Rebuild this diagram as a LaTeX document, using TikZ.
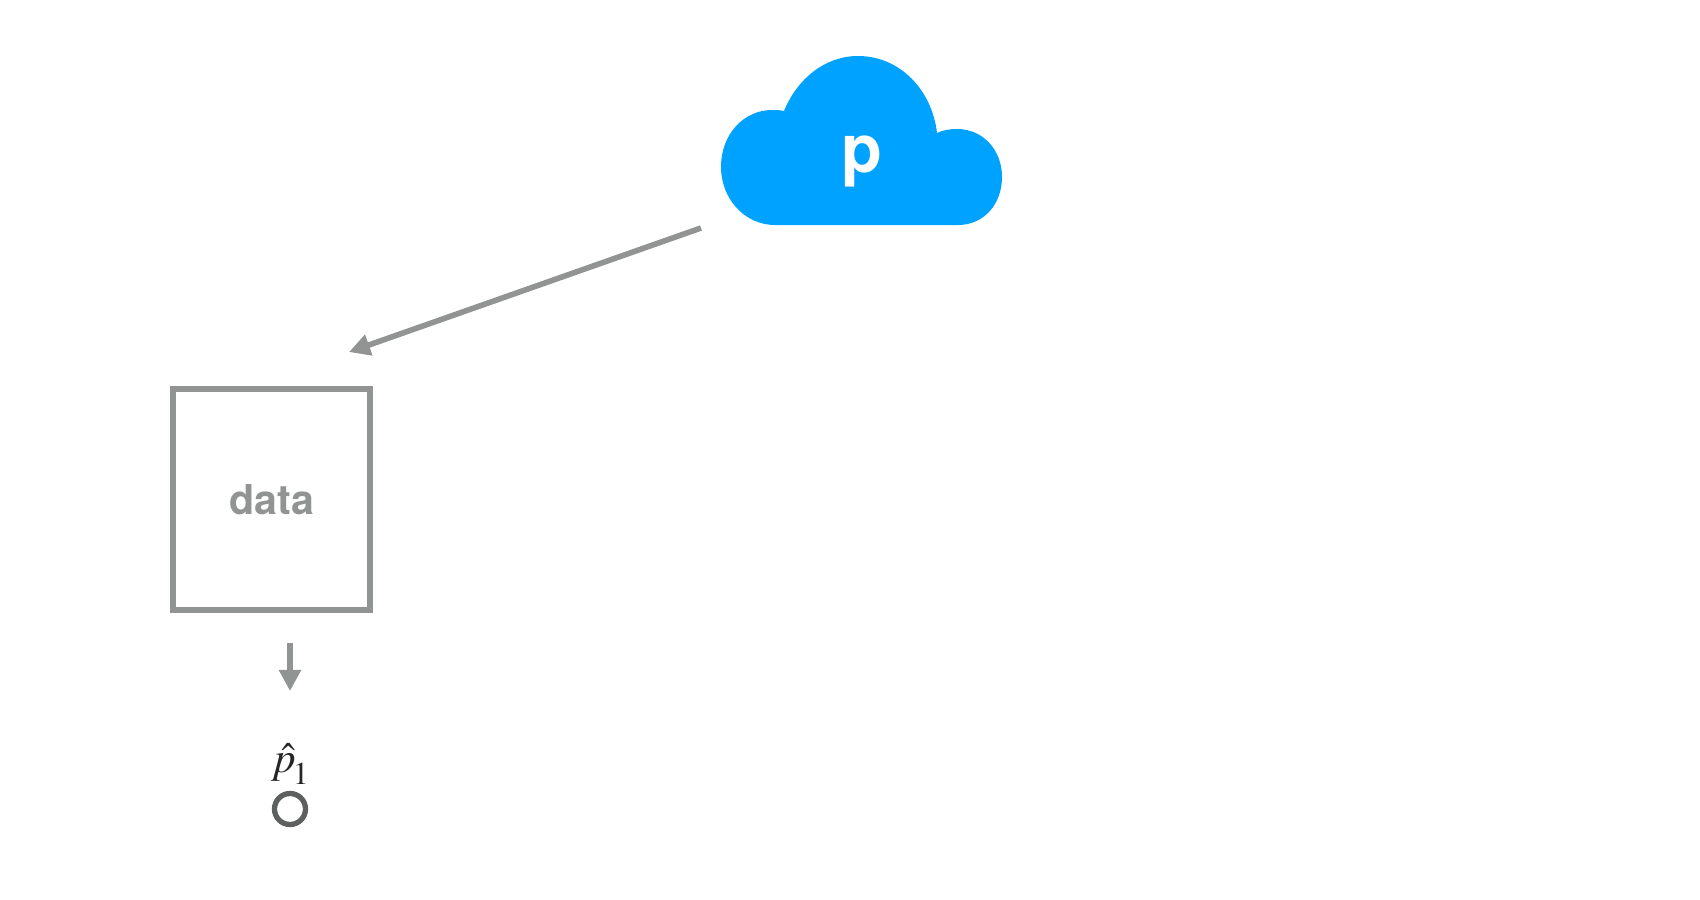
\documentclass[tikz,border=0pt]{standalone}
\usepackage{mathptmx}
\usepackage{fontspec}
\setsansfont{TeX Gyre Heros}
\usepackage{tikz}
\usetikzlibrary{arrows.meta, positioning}
\definecolor{cloudblue}{HTML}{00A2FF}
\definecolor{linegray}{HTML}{929494}
\definecolor{ringgray}{HTML}{5E5F5F}

\begin{document}
\begin{tikzpicture}[x=0.01cm,y=-0.01cm,>={Triangle[length=0.21cm,width=0.21cm]}]
	\tikzset{flow/.style={->,draw=linegray,line width=1.6pt},
		databox/.style={draw=linegray,line width=1.6pt,minimum width=1.97cm,minimum height=2.21cm,inner sep=0pt,text=linegray,font=\sffamily\bfseries\fontsize{11.7}{14}\selectfont},
		ring/.style={circle,draw=ringgray,line width=1.5pt,minimum size=0.31cm,inner sep=0pt}}
	\useasboundingbox (0,0) rectangle (1700,900);
	\fill[cloudblue] (775,225) .. controls (744,225) and (721,198) .. (721,167)
		.. controls (721,134) and (744,110) .. (772,110)
		.. controls (776,110) and (780,110) .. (784,111)
		.. controls (797,79) and (825,56) .. (858,56)
		.. controls (900,56) and (932,90) .. (937,133)
		.. controls (943,130) and (950,129) .. (957,129)
		.. controls (983,129) and (1002,150) .. (1002,177)
		.. controls (1002,204) and (984,225) .. (958,225) -- cycle;
	\node[text=white,font=\sffamily\bfseries\fontsize{19}{23}\selectfont] (p) at (862,161) {p};
	\node[databox] (data) at (271.5,499.5) {data};
	\node[ring] (sample) at (290,809) {};
	\node[text=black!85,font=\fontsize{12.3}{15}\selectfont] (phat) at (291,764) {$\hat{p}_{\!\lower1.5pt\hbox{$\scriptstyle 1$}}$};
	\coordinate (cloudout) at (701,228);
	\coordinate (datain) at (349,352);
	\coordinate (stattop) at (290,643);
	\coordinate (statend) at (290,691);
	\draw[flow] (cloudout) -- (datain);
	\draw[flow] (stattop) -- (statend);
\end{tikzpicture}
\end{document}
